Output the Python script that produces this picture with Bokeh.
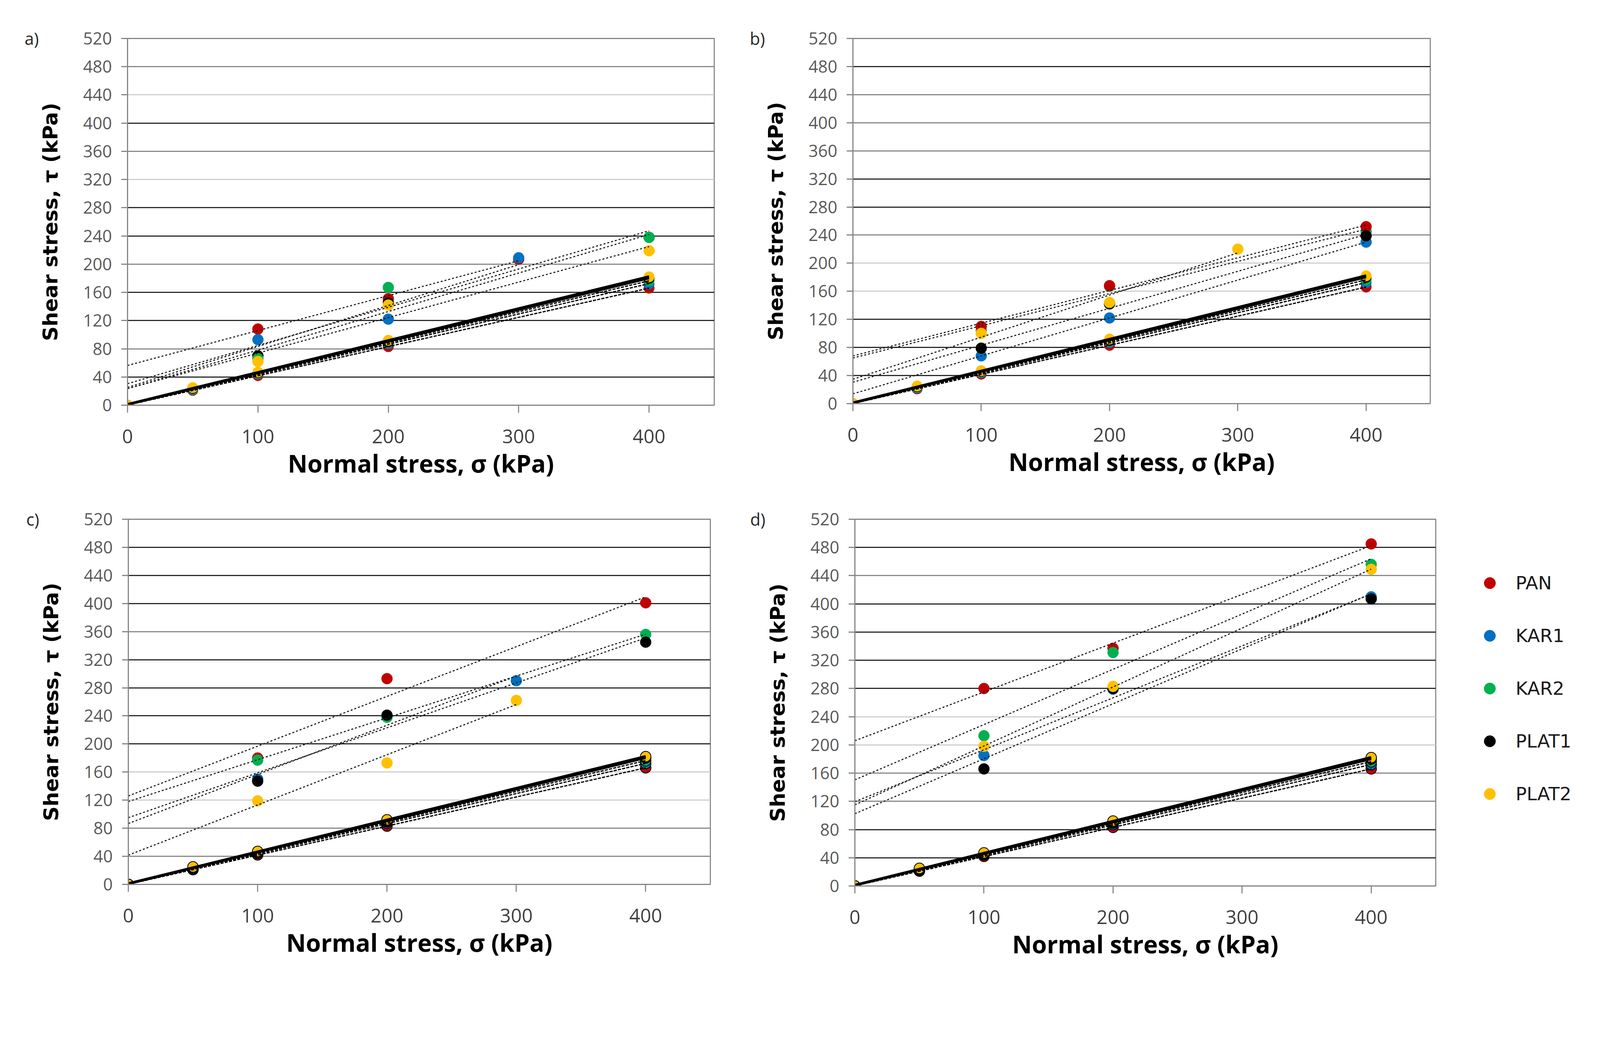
import numpy as np
from bokeh.plotting import figure
from bokeh.models import Range1d, FixedTicker, Grid, Legend, LegendItem, LinearAxis
from bokeh.layouts import column, row
from bokeh.embed import file_html
from bokeh.resources import INLINE

# ---------------- data ----------------
series_names = ["PAN", "KAR1", "KAR2", "PLAT1", "PLAT2"]
series_colors = ["#C00000", "#0070C0", "#00B050", "#000000", "#FFC000"]
panel_tags = ["a)", "b)", "c)", "d)"]

x_ticks = [0, 100, 200, 300, 400]
y_ticks = [0, 40, 80, 120, 160, 200, 240, 280, 320, 360, 400, 440, 480, 520]

# lower series (same in every panel)
low_x = [0, 50, 100, 200, 400]
low_PAN = [0, 21, 42, 83, 166]
low_KAR1 = [0, 22, 44, 87, 172]
low_KAR2 = [0, 23, 45, 89, 176]
low_PLAT1 = [0, 24, 46, 90, 180]
low_PLAT2 = [0, 25, 47, 92, 182]

x_to400 = [100, 200, 400]
x_to300 = [100, 200, 300]

# panel a
a_PAN_x, a_PAN = x_to300, [108, 151, 207]
a_KAR1_x, a_KAR1 = x_to300, [93, 122, 209]
a_KAR2_x, a_KAR2 = x_to400, [66, 167, 238]
a_PLAT1_x, a_PLAT1 = x_to400, [70, 145, 238]
a_PLAT2_x, a_PLAT2 = x_to400, [62, 142, 219]
# panel b
b_PAN_x, b_PAN = x_to400, [110, 168, 252]
b_KAR1_x, b_KAR1 = x_to400, [68, 122, 230]
b_KAR2_x, b_KAR2 = x_to400, [104, 167, 245]
b_PLAT1_x, b_PLAT1 = x_to400, [79, 142, 239]
b_PLAT2_x, b_PLAT2 = x_to300, [100, 144, 220]
# panel c
c_PAN_x, c_PAN = x_to400, [180, 293, 401]
c_KAR1_x, c_KAR1 = x_to300, [150, 240, 290]
c_KAR2_x, c_KAR2 = x_to400, [177, 238, 356]
c_PLAT1_x, c_PLAT1 = x_to400, [147, 241, 345]
c_PLAT2_x, c_PLAT2 = x_to300, [119, 173, 262]
# panel d
d_PAN_x, d_PAN = x_to400, [280, 337, 485]
d_KAR1_x, d_KAR1 = x_to400, [185, 279, 410]
d_KAR2_x, d_KAR2 = x_to400, [213, 331, 456]
d_PLAT1_x, d_PLAT1 = x_to400, [166, 280, 407]
d_PLAT2_x, d_PLAT2 = x_to400, [198, 283, 449]

# ---------------- style ----------------
GRID_DARK, GRID_MID, GRID_LIGHT = "#2a2a2a", "#8a8a8a", "#cfcfcf"
grid_a = ([400, 280, 240, 160, 120, 40], [480, 360, 200, 80], [440, 320])
grid_b = ([480, 320, 280, 120, 80, 40], [440, 400, 360, 240], [200, 160])
grid_c = ([480, 440, 400, 320, 280, 240, 200], [360, 80, 40], [160, 120])
grid_d = ([480, 400, 360, 320, 280, 80, 40], [440, 160, 120], [240, 200])

# drawing order of the upper markers (index into series)
order_a = [0, 1, 3, 2, 4]
order_b = [2, 0, 1, 3, 4]
order_c = [0, 1, 2, 3, 4]
order_d = [0, 1, 2, 3, 4]

low_sets = [low_PAN, low_KAR1, low_KAR2, low_PLAT1, low_PLAT2]
low_widths = [3.2, 3.2, 3.2, 5.6, 6.5]
low_dash = ["8 3", "8 3", "8 3", "solid", "solid"]


def make_panel(tag, upper, order, grids, fw, fh, ml, mt, mr, mb, outlined, tag_standoff):
    p = figure(frame_width=fw, frame_height=fh,
               min_border_left=ml, min_border_top=mt,
               min_border_right=mr, min_border_bottom=mb,
               x_range=Range1d(0, 450), y_range=Range1d(0, 520),
               output_backend="svg", toolbar_location=None)
    p.background_fill_color = "white"
    p.border_fill_color = "white"
    p.outline_line_color = "#868686"
    p.outline_line_width = 2.8
    p.xgrid.visible = False
    p.ygrid.visible = False
    for ticks, col in zip(grids, (GRID_DARK, GRID_MID, GRID_LIGHT)):
        g = Grid(dimension=1, ticker=FixedTicker(ticks=ticks),
                 grid_line_color=col, grid_line_width=2.8)
        p.add_layout(g)

    xa = p.xaxis[0]
    ya = p.yaxis[0]
    xa.ticker = FixedTicker(ticks=x_ticks)
    ya.ticker = FixedTicker(ticks=y_ticks)
    for ax in (xa, ya):
        ax.axis_line_color = "#868686"
        ax.axis_line_width = 2.8
        ax.major_tick_line_color = "#868686"
        ax.major_tick_line_width = 2.8
        ax.major_tick_in = 0
        ax.minor_tick_line_color = None
    ya.major_tick_out = 16
    xa.major_tick_out = 19
    ya.major_label_text_font = "Open Sans"
    ya.major_label_text_font_size = "43px"
    ya.major_label_text_color = "#595959"
    ya.major_label_standoff = 24
    xa.major_label_text_font = "Open Sans"
    xa.major_label_text_font_size = "49px"
    xa.major_label_text_color = "#404040"
    xa.major_label_standoff = 43

    ya.axis_label = "Shear stress, \u03c4 (kPa)"
    ya.axis_label_text_font = "DejaVu Sans"
    ya.axis_label_text_font_style = "bold"
    ya.axis_label_text_font_size = "52px"
    ya.axis_label_text_color = "black"
    ya.axis_label_standoff = 51
    xa.axis_label = "Normal stress, \u03c3 (kPa)"
    xa.axis_label_text_font = "Open Sans"
    xa.axis_label_text_font_style = "bold"
    xa.axis_label_text_font_size = "62px"
    xa.axis_label_text_color = "black"
    xa.axis_label_standoff = 6

    # panel tag "a)" etc. drawn as the single label of an outer left axis at y = 520
    tag_axis = LinearAxis(ticker=FixedTicker(ticks=[y_ticks[-1]]),
                          major_label_overrides={y_ticks[-1]: tag},
                          axis_line_color=None, major_tick_line_color=None,
                          minor_tick_line_color=None, major_tick_out=0, major_tick_in=0,
                          major_label_standoff=tag_standoff,
                          major_label_text_font="Open Sans",
                          major_label_text_font_size="43px",
                          major_label_text_color="#262626")
    p.add_layout(tag_axis, "left")

    # markers: lower sets then upper sets
    for ys, col in zip(low_sets, series_colors):
        if outlined:
            p.scatter(low_x, ys, size=27, fill_color=col, line_color="black", line_width=2)
        else:
            p.scatter(low_x, ys, size=27, fill_color=col, line_color=col, line_width=1)
    for i in order:
        xs, ys = upper[i]
        col = series_colors[i]
        p.scatter(xs, ys, size=28, fill_color=col, line_color=col, line_width=1)

    # trend lines (least squares, extended back to sigma = 0)
    for xs, ys in upper:
        m, c = np.polyfit(xs, ys, 1)
        xe = [0, max(xs)]
        p.line(xe, [c + m * v for v in xe], line_color="#1a1a1a", line_width=2.8, line_dash="5 5")
    for ys, w, dsh in zip(low_sets, low_widths, low_dash):
        m, c = np.polyfit(low_x, ys, 1)
        xe = [0, max(low_x)]
        p.line(xe, [c + m * v for v in xe], line_color="black", line_width=w, line_dash=dsh)
    return p


pa = make_panel(panel_tags[0], [(a_PAN_x, a_PAN), (a_KAR1_x, a_KAR1), (a_KAR2_x, a_KAR2),
                                (a_PLAT1_x, a_PLAT1), (a_PLAT2_x, a_PLAT2)], order_a,
                grid_a, 1502, 939, 326, 93, 30, 225, False, -4)
pb = make_panel(panel_tags[1], [(b_PAN_x, b_PAN), (b_KAR1_x, b_KAR1), (b_KAR2_x, b_KAR2),
                                (b_PLAT1_x, b_PLAT1), (b_PLAT2_x, b_PLAT2)], order_b,
                grid_b, 1478, 935, 325, 98, 30, 224, False, -6)
pc = make_panel(panel_tags[2], [(c_PAN_x, c_PAN), (c_KAR1_x, c_KAR1), (c_KAR2_x, c_KAR2),
                                (c_PLAT1_x, c_PLAT1), (c_PLAT2_x, c_PLAT2)], order_c,
                grid_c, 1490, 935, 328, 72, 30, 215, True, -3)
pd_ = make_panel(panel_tags[3], [(d_PAN_x, d_PAN), (d_KAR1_x, d_KAR1), (d_KAR2_x, d_KAR2),
                                 (d_PLAT1_x, d_PLAT1), (d_PLAT2_x, d_PLAT2)], order_d,
                 grid_d, 1487, 939, 340, 64, 10, 215, True, -2)

# ---------------- legend (own container figure right of panel d) ----------------
pl = figure(frame_width=370, frame_height=939, min_border_left=0, min_border_right=0,
            min_border_top=64, min_border_bottom=215,
            x_range=Range1d(0, 1), y_range=Range1d(0, 1),
            x_axis_type=None, y_axis_type=None,
            output_backend="svg", toolbar_location=None)
pl.outline_line_color = None
pl.background_fill_color = "white"
pl.border_fill_color = "white"
pl.xgrid.visible = False
pl.ygrid.visible = False
key_renderers = []
for col in series_colors:
    # point kept outside the visible range: only its legend key is shown
    key_renderers.append(pl.scatter([-1], [-1], size=28, fill_color=col, line_color=col))

legend = Legend(items=[LegendItem(label=n, renderers=[r]) for n, r in zip(series_names, key_renderers)],
                location=(62, 196), orientation="vertical",
                glyph_width=133, glyph_height=73, label_height=79,
                label_standoff=0, spacing=56, padding=0, margin=0,
                label_text_font="DejaVu Sans", label_text_font_size="47px",
                label_text_color="#1a1a1a",
                border_line_alpha=0, background_fill_alpha=0)
pl.add_layout(legend)

layout = column(row(pa, pb), row(pc, pd_, pl))
open("out.html", "w").write(file_html(layout, INLINE))
